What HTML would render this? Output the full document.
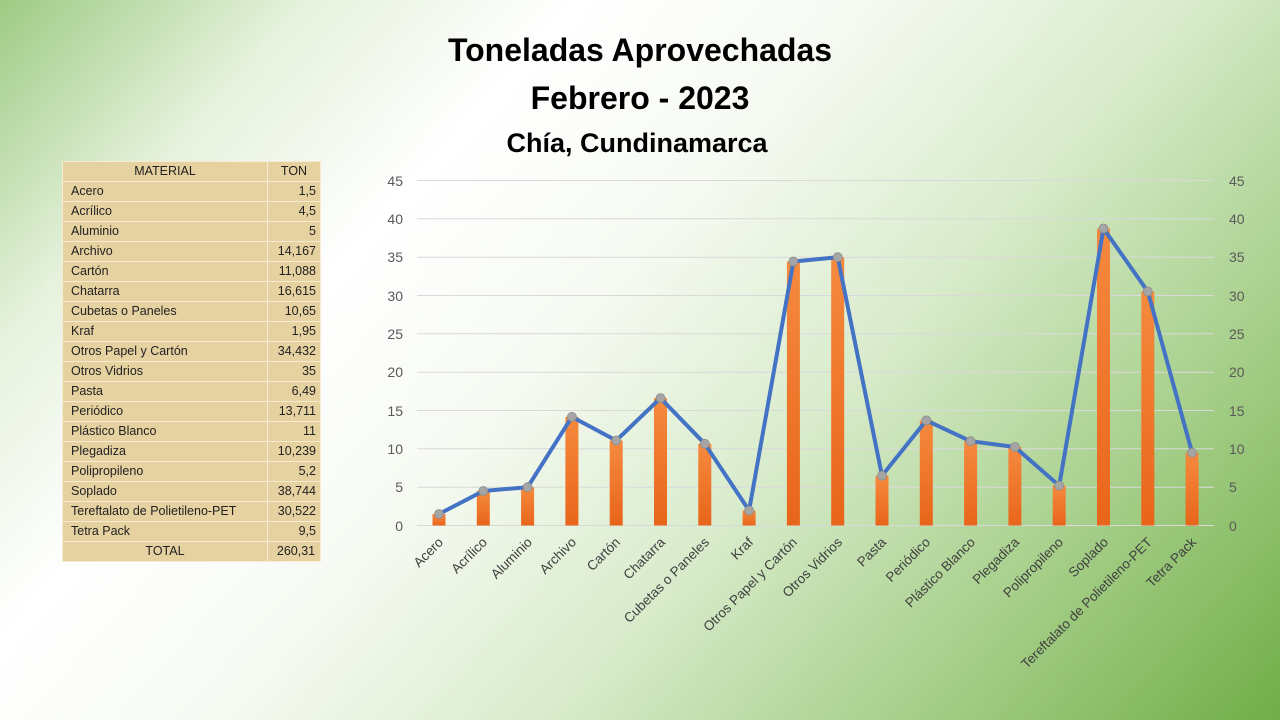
<!DOCTYPE html>
<html><head><meta charset="utf-8"><style>
body{margin:0;width:1280px;height:720px;overflow:hidden;font-family:"Liberation Sans",sans-serif;
background:linear-gradient(132deg,#9ecb84 0%,#e6f2dd 16%,#ffffff 30%,#f6faf2 45%,#d8ebcb 62%,#a8d08c 80%,#71ae47 100%);}
.t{position:absolute;left:0;width:1280px;text-align:center;font-weight:bold;color:#000}
table{position:absolute;left:62px;top:161px;border-collapse:collapse;font-size:12.5px;color:#222}
td{background:#e6d1a0;border:1px solid #f7ecd2;height:19px;padding:0 4px 0 8px;line-height:19px}
td.n{text-align:right;width:40px;padding-right:4px}
td.m{width:192px}
tr.h td{text-align:center}
</style></head><body>
<div class="t" style="top:32px;font-size:32px">Toneladas Aprovechadas</div>
<div class="t" style="top:80px;font-size:32px">Febrero - 2023</div>
<div class="t" style="top:128px;font-size:27px;width:1274px">Chía, Cundinamarca</div>
<table>
<tr class="h"><td class="m" style="padding:0">MATERIAL</td><td style="text-align:center;width:44px;padding:0">TON</td></tr>
<tr><td class="m">Acero</td><td class="n">1,5</td></tr>
<tr><td class="m">Acrílico</td><td class="n">4,5</td></tr>
<tr><td class="m">Aluminio</td><td class="n">5</td></tr>
<tr><td class="m">Archivo</td><td class="n">14,167</td></tr>
<tr><td class="m">Cartón</td><td class="n">11,088</td></tr>
<tr><td class="m">Chatarra</td><td class="n">16,615</td></tr>
<tr><td class="m">Cubetas o Paneles</td><td class="n">10,65</td></tr>
<tr><td class="m">Kraf</td><td class="n">1,95</td></tr>
<tr><td class="m">Otros Papel y Cartón</td><td class="n">34,432</td></tr>
<tr><td class="m">Otros Vidrios</td><td class="n">35</td></tr>
<tr><td class="m">Pasta</td><td class="n">6,49</td></tr>
<tr><td class="m">Periódico</td><td class="n">13,711</td></tr>
<tr><td class="m">Plástico Blanco</td><td class="n">11</td></tr>
<tr><td class="m">Plegadiza</td><td class="n">10,239</td></tr>
<tr><td class="m">Polipropileno</td><td class="n">5,2</td></tr>
<tr><td class="m">Soplado</td><td class="n">38,744</td></tr>
<tr><td class="m">Tereftalato de Polietileno-PET</td><td class="n">30,522</td></tr>
<tr><td class="m">Tetra Pack</td><td class="n">9,5</td></tr>
<tr class="h"><td class="m" style="padding:0">TOTAL</td><td class="n">260,31</td></tr>
</table>
<svg width="1280" height="720" style="position:absolute;left:0;top:0" font-family="Liberation Sans, sans-serif">
<defs><linearGradient id="b" x1="0" y1="0" x2="0" y2="1"><stop offset="0" stop-color="#f58a3e"/><stop offset="1" stop-color="#e8651b"/></linearGradient></defs>
<g stroke="#d9d9d9" stroke-width="1">
<line x1="417" x2="1214" y1="180.5" y2="180.5"/><line x1="417" x2="1214" y1="218.8" y2="218.8"/><line x1="417" x2="1214" y1="257.2" y2="257.2"/><line x1="417" x2="1214" y1="295.5" y2="295.5"/><line x1="417" x2="1214" y1="333.8" y2="333.8"/><line x1="417" x2="1214" y1="372.2" y2="372.2"/><line x1="417" x2="1214" y1="410.5" y2="410.5"/><line x1="417" x2="1214" y1="448.8" y2="448.8"/><line x1="417" x2="1214" y1="487.2" y2="487.2"/><line x1="417" x2="1214" y1="525.5" y2="525.5"/>
</g>
<g font-size="14" fill="#595959" text-anchor="end">
<text x="403" y="186">45</text><text x="403" y="224">40</text><text x="403" y="262">35</text><text x="403" y="301">30</text><text x="403" y="339">25</text><text x="403" y="377">20</text><text x="403" y="416">15</text><text x="403" y="454">10</text><text x="403" y="492">5</text><text x="403" y="531">0</text>
</g>
<g font-size="14" fill="#595959">
<text x="1229" y="186">45</text><text x="1229" y="224">40</text><text x="1229" y="262">35</text><text x="1229" y="301">30</text><text x="1229" y="339">25</text><text x="1229" y="377">20</text><text x="1229" y="416">15</text><text x="1229" y="454">10</text><text x="1229" y="492">5</text><text x="1229" y="531">0</text>
</g>
<g fill="url(#b)">
<rect x="432.5" y="514" width="13" height="11.5"/><rect x="476.8" y="491" width="13" height="34.5"/><rect x="521.1" y="487.2" width="13" height="38.3"/><rect x="565.4" y="416.9" width="13" height="108.6"/><rect x="609.7" y="440.5" width="13" height="85"/><rect x="654" y="398.1" width="13" height="127.4"/><rect x="698.3" y="443.8" width="13" height="81.7"/><rect x="742.6" y="510.5" width="13" height="15"/><rect x="786.9" y="261.5" width="13" height="264"/><rect x="831.2" y="257.2" width="13" height="268.3"/><rect x="875.5" y="475.7" width="13" height="49.8"/><rect x="919.8" y="420.4" width="13" height="105.1"/><rect x="964.1" y="441.2" width="13" height="84.3"/><rect x="1008.4" y="447" width="13" height="78.5"/><rect x="1052.7" y="485.6" width="13" height="39.9"/><rect x="1097" y="228.5" width="13" height="297"/><rect x="1141.3" y="291.5" width="13" height="234"/><rect x="1185.6" y="452.7" width="13" height="72.8"/>
</g>
<polyline fill="none" stroke="#4472c4" stroke-width="4" stroke-linejoin="round" points="439,514 483.3,491 527.6,487.2 571.9,416.9 616.2,440.5 660.5,398.1 704.8,443.8 749.1,510.5 793.4,261.5 837.7,257.2 882,475.7 926.3,420.4 970.6,441.2 1014.9,447 1059.2,485.6 1103.5,228.5 1147.8,291.5 1192.1,452.7"/>
<g fill="#a5a5a5" stroke="#8c8c8c" stroke-width="0.8">
<circle cx="439" cy="514" r="4.5"/><circle cx="483.3" cy="491" r="4.5"/><circle cx="527.6" cy="487.2" r="4.5"/><circle cx="571.9" cy="416.9" r="4.5"/><circle cx="616.2" cy="440.5" r="4.5"/><circle cx="660.5" cy="398.1" r="4.5"/><circle cx="704.8" cy="443.8" r="4.5"/><circle cx="749.1" cy="510.5" r="4.5"/><circle cx="793.4" cy="261.5" r="4.5"/><circle cx="837.7" cy="257.2" r="4.5"/><circle cx="882" cy="475.7" r="4.5"/><circle cx="926.3" cy="420.4" r="4.5"/><circle cx="970.6" cy="441.2" r="4.5"/><circle cx="1014.9" cy="447" r="4.5"/><circle cx="1059.2" cy="485.6" r="4.5"/><circle cx="1103.5" cy="228.5" r="4.5"/><circle cx="1147.8" cy="291.5" r="4.5"/><circle cx="1192.1" cy="452.7" r="4.5"/>
</g>
<g font-size="13.5" fill="#404040" text-anchor="end">
<text transform="translate(444,543) rotate(-45)">Acero</text>
<text transform="translate(488,543) rotate(-45)">Acrílico</text>
<text transform="translate(533,543) rotate(-45)">Aluminio</text>
<text transform="translate(577,543) rotate(-45)">Archivo</text>
<text transform="translate(621,543) rotate(-45)">Cartón</text>
<text transform="translate(666,543) rotate(-45)">Chatarra</text>
<text transform="translate(710,543) rotate(-45)">Cubetas o Paneles</text>
<text transform="translate(754,543) rotate(-45)">Kraf</text>
<text transform="translate(798,543) rotate(-45)">Otros Papel y Cartón</text>
<text transform="translate(843,543) rotate(-45)">Otros Vidrios</text>
<text transform="translate(887,543) rotate(-45)">Pasta</text>
<text transform="translate(931,543) rotate(-45)">Periódico</text>
<text transform="translate(976,543) rotate(-45)">Plástico Blanco</text>
<text transform="translate(1020,543) rotate(-45)">Plegadiza</text>
<text transform="translate(1064,543) rotate(-45)">Polipropileno</text>
<text transform="translate(1109,543) rotate(-45)">Soplado</text>
<text transform="translate(1153,543) rotate(-45)">Tereftalato de Polietileno-PET</text>
<text transform="translate(1197,543) rotate(-45)">Tetra Pack</text>
</g>
</svg>
</body></html>
